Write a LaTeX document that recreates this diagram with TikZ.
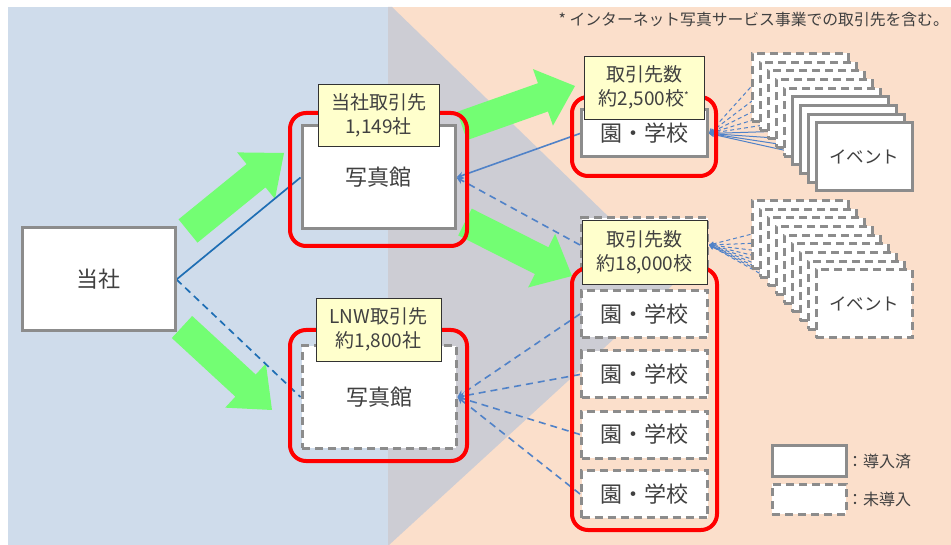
\documentclass[tikz,border=0pt]{standalone}
\usepackage{fontspec}
\setmainfont{Noto Sans CJK JP}
\usetikzlibrary{calc,arrows.meta}
\definecolor{bgblue}{RGB}{207,220,235}
\definecolor{bgpeach}{RGB}{251,223,203}
\definecolor{bggray}{RGB}{205,205,212}
\definecolor{garrow}{RGB}{115,254,115}
\definecolor{boxgray}{RGB}{140,140,140}
\definecolor{txt}{RGB}{64,64,64}
\definecolor{labfill}{RGB}{255,255,204}
\definecolor{labborder}{RGB}{50,50,50}
\definecolor{dkblue}{RGB}{30,110,180}
\definecolor{ltblue}{RGB}{80,130,200}
\pgfdeclarelayer{back}
\pgfdeclarelayer{mid}
\pgfsetlayers{back,mid,main}
\newcommand\greenarr[5]{%
  \path ($(#2)!#5!(#1)$) coordinate (gh);
  \fill[garrow] ($(#1)!#3!90:(#2)$) -- ($(gh)!#3!90:(#2)$) -- ($(gh)!#4!90:(#2)$) -- (#2)
    -- ($(gh)!#4!-90:(#2)$) -- ($(gh)!#3!-90:(#2)$) -- ($(#1)!#3!-90:(#2)$) -- cycle;}
\tikzset{
  gbox/.style={draw=boxgray, line width=3pt, fill=white, text=txt, inner sep=0pt,
    font=\fontsize{22}{24}\selectfont},
  dbox/.style={gbox, dash pattern=on 8pt off 5pt},
  redr/.style={draw=red, line width=4pt, rounded corners=16pt},
  lab/.style={draw=labborder, line width=0.8pt, fill=labfill, align=center, text=txt,
    inner sep=0pt, font=\fontsize{19}{24}\selectfont},
  ev/.style={gbox, minimum width=96pt, minimum height=68pt, font=\fontsize{17.5}{20}\selectfont},
  evd/.style={ev, dash pattern=on 8pt off 5pt},
  school/.style={minimum width=126pt, minimum height=47pt},
  ln/.style={ltblue, line width=1.6pt},
  tip/.style={-{Stealth[length=7pt,width=7pt]}},
  tipsm/.style={-{Stealth[length=5pt,width=5pt]}},
  dsh/.style={dash pattern=on 7pt off 5pt},
  dshs/.style={dash pattern=on 4pt off 3pt},
  legtext/.style={anchor=west, text=txt, inner sep=0pt, font=\fontsize{16}{18}\selectfont},
}
\begin{document}
\begin{tikzpicture}[x=1pt,y=-1pt]
\useasboundingbox (0,0) rectangle (951,545);
\begin{pgfonlayer}{back}
\fill[bgblue] (8,7) rectangle (388,545);
\fill[bgpeach] (388,7) rectangle (951,545);
\fill[bggray] (388,7) -- (392,7) -- (676,282) -- (389,545) -- (388,545) -- cycle;
\coordinate (a1t) at (188,231); \coordinate (a1p) at (284,153);
\coordinate (a2t) at (182,327); \coordinate (a2p) at (272,410);
\coordinate (a3t) at (462,126); \coordinate (a3p) at (575,86);
\coordinate (a4t) at (465,222); \coordinate (a4p) at (572,276);
\greenarr{a1t}{a1p}{15pt}{30pt}{36pt}
\greenarr{a2t}{a2p}{15pt}{30pt}{36pt}
\greenarr{a3t}{a3p}{15pt}{30pt}{34pt}
\greenarr{a4t}{a4p}{15pt}{30pt}{34pt}
\end{pgfonlayer}

% footnote
\node[anchor=east, text=txt, inner sep=0pt, font=\fontsize{15.8}{17}\selectfont] (note) at (949,20) {* インターネット写真サービス事業での取引先を含む。};

% main boxes
\node[gbox, minimum width=153pt, minimum height=103pt] (us) at (98.5,279.5) {当社};
\node[gbox, minimum width=153pt, minimum height=103pt] (s1) at (378.5,177.5) {写真館};
\node[dbox, minimum width=154pt, minimum height=102pt] (s2) at (379,397) {写真館};
\draw[redr] (290,113) rectangle (467,246);
\draw[redr] (290,330) rectangle (467,461);
\node[lab, minimum width=121pt, minimum height=62pt] (l1) at (378.5,115) {当社取引先\\1,149社};
\node[lab, minimum width=125pt, minimum height=63pt] (l2) at (378.5,329.5) {LNW取引先\\約1,800社};

% schools
\node[gbox, school] (ts) at (644.5,133.5) {園・学校};
\draw[redr] (572,97) rectangle (716,176);
\node[lab, minimum width=120pt, minimum height=63pt] (l3) at (644,87.5) {取引先数\\約2,500校\textsuperscript{\fontsize{10}{10}\selectfont *}};

\node[dbox, school, minimum height=54pt] (grp) at (644.5,245) {};
\draw[redr] (572,268) rectangle (717,530);
\node[dbox, school] (b1) at (644.5,314) {園・学校};
\node[dbox, school] (b2) at (644.5,374.5) {園・学校};
\node[dbox, school] (b3) at (644.5,434.5) {園・学校};
\node[dbox, school] (b4) at (644.5,494) {園・学校};
\node[lab, minimum width=125pt, minimum height=64pt] (l4) at (644.5,252) {取引先数\\約18,000校};

% event stacks
\foreach \k in {8,7,...,4} {\node[evd] (te\k) at ({864-8*\k},{157-8.7*\k}) {};}
\foreach \k in {3,2,1} {\node[ev] (te\k) at ({864-8*\k},{157-8.7*\k}) {};}
\node[ev] (te0) at (864,157) {イベント};
\foreach \k in {8,7,...,1} {\node[evd] (be\k) at ({864-8*\k},{304-8.7*\k}) {};}
\node[evd] (be0) at (864,304) {イベント};

% legend
\node[gbox, minimum width=74pt, minimum height=31pt] (lg1) at (809,460.5) {};
\node[dbox, minimum width=74pt, minimum height=30pt] (lg2) at (809,499) {};
\node[legtext] (lt1) at (847,461) {：導入済};
\node[legtext] (lt2) at (847,499) {：未導入};

% connectors
\begin{pgfonlayer}{mid}
\draw[dkblue, line width=1.7pt] (us.east) -- (s1.west);
\draw[dkblue, line width=1.7pt, dsh] (us.east) -- (s2.west);
\draw[ln, tip] (ts.west) -- (s1.east);
\draw[ln, dsh, tip] (grp.west) -- (s1.east);
\foreach \b in {b1,b2,b3,b4} {\draw[ln, dsh, tip] (\b.west) -- (s2.east);}
\foreach \k in {0,...,3} {\draw[ltblue, line width=1pt, tipsm] (te\k.west) -- (ts.east);}
\foreach \k in {4,...,8} {\draw[ltblue, line width=1pt, dshs, tipsm] (te\k.west) -- (ts.east);}
\foreach \k in {0,...,8} {\draw[ltblue, line width=1pt, dshs, tipsm] (be\k.west) -- (grp.east);}
\end{pgfonlayer}
\end{tikzpicture}
\end{document}
